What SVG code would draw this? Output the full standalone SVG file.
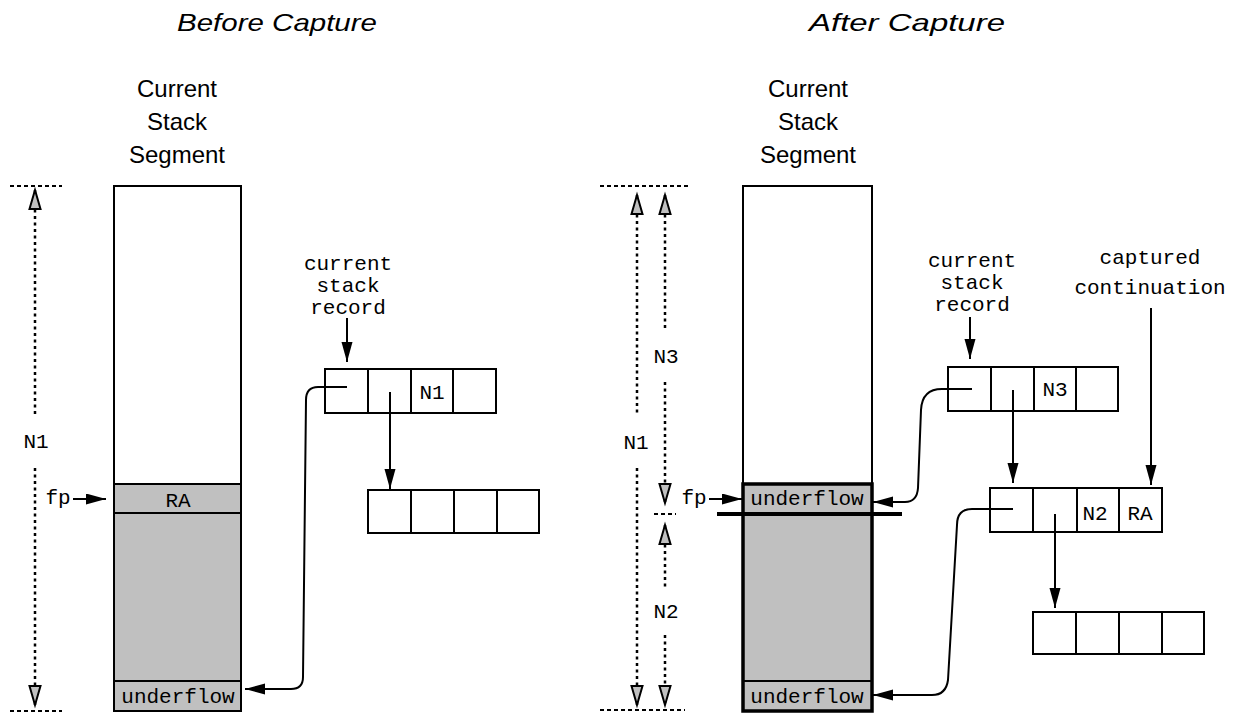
<svg xmlns="http://www.w3.org/2000/svg" width="1234" height="713" viewBox="0 0 1234 713">
<style>
.title{font-family:"Liberation Sans",Arial,sans-serif;font-size:24px;font-style:italic;fill:#000;text-anchor:middle}
.head{font-family:"Liberation Sans",Arial,sans-serif;font-size:24px;fill:#000;text-anchor:middle}
.mono{font-family:"Liberation Mono","Courier New",monospace;font-size:21px;fill:#000;text-anchor:middle}
.box{fill:#fff;stroke:#000;stroke-width:2}
.gray{fill:#c0c0c0;stroke:#000;stroke-width:2}
.conn{fill:none;stroke:#000;stroke-width:2}
.dot{fill:none;stroke:#000;stroke-width:2.5;stroke-dasharray:3 3.5}
.dash{fill:none;stroke:#000;stroke-width:2;stroke-dasharray:4 3}
</style>
<defs>
<marker id="ah" markerUnits="userSpaceOnUse" markerWidth="22" markerHeight="12" refX="20" refY="5.5" orient="auto">
<path d="M0,0 L20,5.5 L0,11 z" fill="#000"/>
</marker>
<marker id="oh" markerUnits="userSpaceOnUse" markerWidth="24" markerHeight="16" refX="20" refY="7" orient="auto-start-reverse">
<path d="M1,1.5 L20,7 L1,12.5 z" fill="#c0c0c0" stroke="#000" stroke-width="2"/>
</marker>
</defs>

<text class="title" x="277" y="31" textLength="200" lengthAdjust="spacingAndGlyphs">Before Capture</text>
<text class="title" x="907" y="31" textLength="196" lengthAdjust="spacingAndGlyphs">After Capture</text>

<g id="left-header">
<text class="head" x="177" y="97">Current</text>
<text class="head" x="177" y="130">Stack</text>
<text class="head" x="177" y="163">Segment</text>
</g>

<g id="left-stack">
<rect class="box" x="114" y="186" width="127" height="525"/>
<rect class="gray" x="114" y="484" width="127" height="227"/>
<line class="conn" x1="114" y1="513" x2="241" y2="513"/>
<line class="conn" x1="114" y1="681" x2="241" y2="681"/>
<text class="mono" x="178" y="507">RA</text>
<text class="mono" x="178" y="703">underflow</text>
</g>

<g id="left-measure">
<line class="dash" x1="10" y1="186" x2="62" y2="186"/>
<line class="dash" x1="10" y1="711" x2="62" y2="711"/>
<text class="mono" x="36" y="448">N1</text>
</g>

<g id="left-fp">
<text class="mono" x="58" y="504">fp</text>
</g>

<g id="left-label">
<text class="mono" x="348" y="270">current</text>
<text class="mono" x="348" y="292">stack</text>
<text class="mono" x="348" y="314">record</text>
</g>

<g id="left-record1">
<rect class="box" x="325" y="369" width="171" height="44"/>
<line class="conn" x1="368" y1="369" x2="368" y2="413"/>
<line class="conn" x1="411" y1="369" x2="411" y2="413"/>
<line class="conn" x1="453" y1="369" x2="453" y2="413"/>
<text class="mono" x="432" y="399">N1</text>
</g>

<g id="left-record2">
<rect class="box" x="368" y="490" width="171" height="43"/>
<line class="conn" x1="411" y1="490" x2="411" y2="533"/>
<line class="conn" x1="454" y1="490" x2="454" y2="533"/>
<line class="conn" x1="497" y1="490" x2="497" y2="533"/>
</g>

<g id="right-header">
<text class="head" x="808" y="97">Current</text>
<text class="head" x="808" y="130">Stack</text>
<text class="head" x="808" y="163">Segment</text>
</g>

<g id="right-stack">
<rect class="box" x="743" y="186" width="129" height="298"/>
<rect x="743" y="484" width="129" height="227" fill="#c0c0c0" stroke="#000" stroke-width="3.5"/>
<line class="conn" x1="743" y1="681" x2="872" y2="681"/>
<line x1="717" y1="514" x2="902" y2="514" stroke="#000" stroke-width="4"/>
<text class="mono" x="807" y="505">underflow</text>
<text class="mono" x="807" y="703">underflow</text>
</g>

<g id="right-measure">
<line class="dash" x1="600" y1="186" x2="688" y2="186"/>
<line class="dash" x1="600" y1="710" x2="685" y2="710"/>
<line class="dash" x1="654" y1="514" x2="676" y2="514"/>
<text class="mono" x="636" y="449">N1</text>
<text class="mono" x="666" y="363">N3</text>
<text class="mono" x="666" y="618">N2</text>
</g>

<g id="right-fp">
<text class="mono" x="694" y="504">fp</text>
</g>

<g id="right-label">
<text class="mono" x="972" y="267">current</text>
<text class="mono" x="972" y="289">stack</text>
<text class="mono" x="972" y="311">record</text>
</g>

<g id="captured-label">
<text class="mono" x="1150" y="264">captured</text>
<text class="mono" x="1150" y="294">continuation</text>
</g>

<g id="right-record-n3">
<rect class="box" x="948" y="367" width="170" height="44"/>
<line class="conn" x1="991" y1="367" x2="991" y2="411"/>
<line class="conn" x1="1034" y1="367" x2="1034" y2="411"/>
<line class="conn" x1="1076" y1="367" x2="1076" y2="411"/>
<text class="mono" x="1055" y="396">N3</text>
</g>

<g id="right-record-n2">
<rect class="box" x="990" y="488" width="172" height="44"/>
<line class="conn" x1="1033" y1="488" x2="1033" y2="532"/>
<line class="conn" x1="1077" y1="488" x2="1077" y2="532"/>
<line class="conn" x1="1119" y1="488" x2="1119" y2="532"/>
<text class="mono" x="1095" y="520">N2</text>
<text class="mono" x="1140" y="520">RA</text>
</g>

<g id="right-record3">
<rect class="box" x="1033" y="612" width="171" height="42"/>
<line class="conn" x1="1076" y1="612" x2="1076" y2="654"/>
<line class="conn" x1="1119" y1="612" x2="1119" y2="654"/>
<line class="conn" x1="1162" y1="612" x2="1162" y2="654"/>
</g>

<g id="connectors">
<line class="dot" x1="35" y1="190" x2="35" y2="416" marker-start="url(#oh)"/>
<line class="dot" x1="35" y1="468" x2="35" y2="705" marker-end="url(#oh)"/>
<line class="conn" x1="73" y1="499" x2="106" y2="499" marker-end="url(#ah)"/>
<line class="conn" x1="347" y1="318" x2="347" y2="362" marker-end="url(#ah)"/>
<line class="conn" x1="390" y1="392" x2="390" y2="489" marker-end="url(#ah)"/>
<path class="conn" d="M347,387 L318,387 Q306,387 306,400 L303,677 Q303,689 291,689 L245,689" marker-end="url(#ah)"/>

<line class="dot" x1="637" y1="195" x2="637" y2="416" marker-start="url(#oh)"/>
<line class="dot" x1="637" y1="468" x2="637" y2="705" marker-end="url(#oh)"/>
<line class="dot" x1="665" y1="195" x2="665" y2="330" marker-start="url(#oh)"/>
<line class="dot" x1="665" y1="382" x2="665" y2="503" marker-end="url(#oh)"/>
<line class="dot" x1="665" y1="525" x2="665" y2="590" marker-start="url(#oh)"/>
<line class="dot" x1="665" y1="635" x2="665" y2="705" marker-end="url(#oh)"/>
<line class="conn" x1="709" y1="499" x2="742" y2="499" marker-end="url(#ah)"/>
<line class="conn" x1="970" y1="317" x2="970" y2="359" marker-end="url(#ah)"/>
<line class="conn" x1="1151" y1="308" x2="1151" y2="485" marker-end="url(#ah)"/>
<line class="conn" x1="1013" y1="390" x2="1013" y2="483" marker-end="url(#ah)"/>
<line class="conn" x1="1055" y1="514" x2="1055" y2="608" marker-end="url(#ah)"/>
<path class="conn" d="M972,389 L942,389 Q922,389 921,410 L918,488 Q917,502 905,502 L873,502" marker-end="url(#ah)"/>
<path class="conn" d="M1013,509 L972,509 Q957,509 957,525 L948,680 Q946,695 932,695 L873,695" marker-end="url(#ah)"/>
</g>
</svg>
